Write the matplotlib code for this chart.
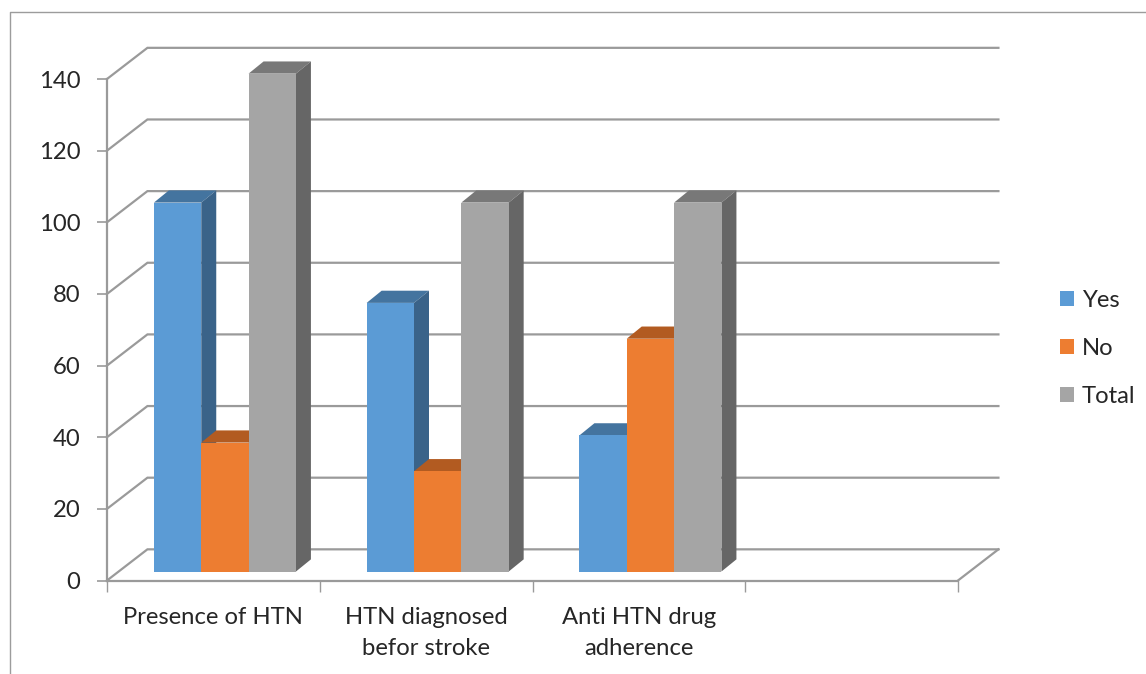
import matplotlib
matplotlib.use('Agg')
import matplotlib.pyplot as plt
from matplotlib.lines import Line2D

plt.rcParams['font.family'] = ['Lato', 'DejaVu Sans']

categories = ['Presence of HTN', 'HTN diagnosed\nbefor stroke', 'Anti HTN drug\nadherence', '']
yes = [103, 75, 38]
no = [36, 28, 65]
total = [139, 103, 103]
series_names = ['Yes', 'No', 'Total']
y_ticks = [0, 20, 40, 60, 80, 100, 120, 140]

# front, top, side colours
colors = ['#5b9bd5', '#ed7d31', '#a5a5a5']
tops = ['#44749f', '#b25b21', '#787878']
sides = ['#3a6389', '#9c4f1c', '#666666']
grid_color = '#9a9a9a'
text_color = '#262626'
font_size = 17.2

W, H = 1146, 674
fig = plt.figure(figsize=(W / 100, H / 100), dpi=100, facecolor='white')

# plot box in pixels: category axis 107-958, value axis 580.5-79
ax = fig.add_axes([107 / W, (H - 580.5) / H, 851 / W, 501.5 / H])
ax.set_xlim(0, len(categories))
ax.set_ylim(0, 140)
ax.patch.set_visible(False)

# depth of the back wall and of the bars
wall_dx, wall_dy = 0.19, 8.7
bar_dx, bar_dy = 0.0705, 3.4
bar_w = 0.2225
bar_start = 0.2205
bar_base = 2.5

# back wall gridlines
n = len(categories)
for v in y_ticks:
    ax.plot([0, wall_dx, n + wall_dx], [v, v + wall_dy, v + wall_dy],
            color=grid_color, lw=1.6, clip_on=False, zorder=1, solid_joinstyle='miter')
ax.plot([n, n + wall_dx], [0, wall_dy], color=grid_color, lw=1.6, clip_on=False, zorder=1)

# fake 3d bars
z = 3
for i in range(3):
    for j, vals in enumerate([yes, no, total]):
        x0 = i + bar_start + j * bar_w
        x1 = x0 + bar_w
        top = vals[i] + bar_base
        ax.fill([x0, x0 + bar_dx, x1 + bar_dx, x1], [top, top + bar_dy, top + bar_dy, top],
                color=tops[j], lw=0, clip_on=False, zorder=z)
        ax.fill([x1, x1 + bar_dx, x1 + bar_dx, x1],
                [bar_base, bar_base + bar_dy, top + bar_dy, top],
                color=sides[j], lw=0, clip_on=False, zorder=z)
        ax.bar(x0, vals[i], width=bar_w, bottom=bar_base, align='edge',
               color=colors[j], lw=0, clip_on=False, zorder=z + 0.5)
        z += 1

for s in ['top', 'right']:
    ax.spines[s].set_visible(False)
for s in ['left', 'bottom']:
    ax.spines[s].set_color(grid_color)
    ax.spines[s].set_linewidth(1.6)

ax.set_yticks(y_ticks)
ax.tick_params(axis='y', length=7, width=1.2, color=grid_color, labelsize=font_size,
               labelcolor=text_color, pad=12)
ax.set_xticks(range(n + 1))
ax.set_xticklabels([])
ax.tick_params(axis='x', which='major', length=8, width=1, color=grid_color)
ax.set_xticks([i + 0.5 for i in range(n)], minor=True)
ax.set_xticklabels(categories, minor=True, fontsize=font_size, color=text_color, linespacing=1.6)
ax.tick_params(axis='x', which='minor', length=0, pad=19)

handles = [plt.Rectangle((0, 0), 1, 1, color=c, lw=0) for c in colors]
fig.legend(handles, series_names, loc='upper left', bbox_to_anchor=(1050 / W, (H - 280) / H),
           frameon=False, fontsize=font_size, labelcolor=text_color, handlelength=0.59,
           handleheight=0.59, handletextpad=0.35, labelspacing=1.13, borderpad=0.4,
           borderaxespad=0)

# outer chart frame, cut by the image on the right and bottom
fig.add_artist(Line2D([9.5 / W, 9.5 / W, 1], [0, (H - 12) / H, (H - 12) / H],
                      color='#9c9c9c', lw=1))

fig.savefig('out.png', dpi=100)
